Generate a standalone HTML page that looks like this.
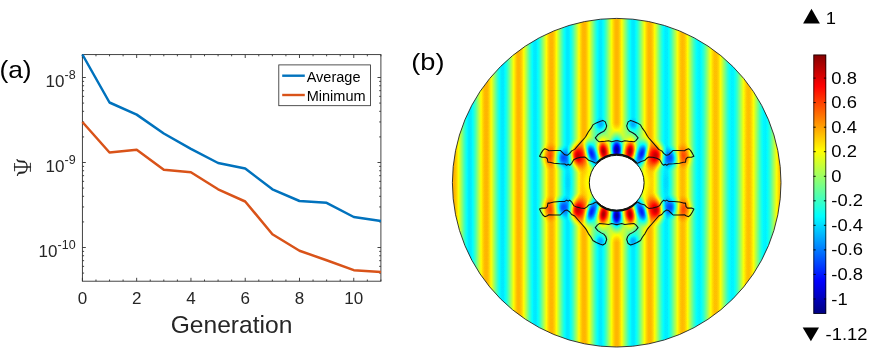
<!DOCTYPE html>
<html><head><meta charset="utf-8"><title>figure</title>
<style>html,body{margin:0;padding:0;background:#fff}svg{display:block}#w{width:872px;height:353px;overflow:hidden;will-change:transform;opacity:0.999}</style></head>
<body>
<div id="w">
<svg width="872" height="353" viewBox="0 0 872 353">
<rect width="872" height="353" fill="#fff"/>
<defs>
<linearGradient id="stp" gradientUnits="userSpaceOnUse" x1="616.70" y1="0" x2="649.67" y2="0" spreadMethod="repeat"><stop offset="0.0000" stop-color="#b2b2b2"/><stop offset="0.0417" stop-color="#b1b1b1"/><stop offset="0.0833" stop-color="#acacac"/><stop offset="0.1250" stop-color="#a5a5a5"/><stop offset="0.1667" stop-color="#9c9c9c"/><stop offset="0.2083" stop-color="#919191"/><stop offset="0.2500" stop-color="#868686"/><stop offset="0.2917" stop-color="#7b7b7b"/><stop offset="0.3333" stop-color="#707070"/><stop offset="0.3750" stop-color="#676767"/><stop offset="0.4167" stop-color="#606060"/><stop offset="0.4583" stop-color="#5b5b5b"/><stop offset="0.5000" stop-color="#5a5a5a"/><stop offset="0.5417" stop-color="#5b5b5b"/><stop offset="0.5833" stop-color="#606060"/><stop offset="0.6250" stop-color="#676767"/><stop offset="0.6667" stop-color="#707070"/><stop offset="0.7083" stop-color="#7b7b7b"/><stop offset="0.7500" stop-color="#868686"/><stop offset="0.7917" stop-color="#919191"/><stop offset="0.8333" stop-color="#9c9c9c"/><stop offset="0.8750" stop-color="#a5a5a5"/><stop offset="0.9167" stop-color="#acacac"/><stop offset="0.9583" stop-color="#b1b1b1"/><stop offset="1.0000" stop-color="#b2b2b2"/></linearGradient>
<linearGradient id="stpL" gradientUnits="userSpaceOnUse" x1="616.70" y1="0" x2="649.35" y2="0" spreadMethod="repeat"><stop offset="0.0000" stop-color="#b2b2b2"/><stop offset="0.0417" stop-color="#b1b1b1"/><stop offset="0.0833" stop-color="#acacac"/><stop offset="0.1250" stop-color="#a5a5a5"/><stop offset="0.1667" stop-color="#9c9c9c"/><stop offset="0.2083" stop-color="#919191"/><stop offset="0.2500" stop-color="#868686"/><stop offset="0.2917" stop-color="#7b7b7b"/><stop offset="0.3333" stop-color="#707070"/><stop offset="0.3750" stop-color="#676767"/><stop offset="0.4167" stop-color="#606060"/><stop offset="0.4583" stop-color="#5b5b5b"/><stop offset="0.5000" stop-color="#5a5a5a"/><stop offset="0.5417" stop-color="#5b5b5b"/><stop offset="0.5833" stop-color="#606060"/><stop offset="0.6250" stop-color="#676767"/><stop offset="0.6667" stop-color="#707070"/><stop offset="0.7083" stop-color="#7b7b7b"/><stop offset="0.7500" stop-color="#868686"/><stop offset="0.7917" stop-color="#919191"/><stop offset="0.8333" stop-color="#9c9c9c"/><stop offset="0.8750" stop-color="#a5a5a5"/><stop offset="0.9167" stop-color="#acacac"/><stop offset="0.9583" stop-color="#b1b1b1"/><stop offset="1.0000" stop-color="#b2b2b2"/></linearGradient>
<linearGradient id="damp" gradientUnits="userSpaceOnUse" x1="650" y1="0" x2="700" y2="0"><stop offset="0" stop-color="#878787" stop-opacity="0"/><stop offset="1" stop-color="#878787" stop-opacity="0.06"/></linearGradient>
<radialGradient id="gp"><stop offset="0.00" stop-color="#fff" stop-opacity="1.000"/><stop offset="0.10" stop-color="#fff" stop-opacity="0.974"/><stop offset="0.20" stop-color="#fff" stop-opacity="0.899"/><stop offset="0.30" stop-color="#fff" stop-opacity="0.785"/><stop offset="0.40" stop-color="#fff" stop-opacity="0.648"/><stop offset="0.50" stop-color="#fff" stop-opacity="0.502"/><stop offset="0.60" stop-color="#fff" stop-opacity="0.362"/><stop offset="0.70" stop-color="#fff" stop-opacity="0.238"/><stop offset="0.80" stop-color="#fff" stop-opacity="0.136"/><stop offset="0.90" stop-color="#fff" stop-opacity="0.057"/><stop offset="1.00" stop-color="#fff" stop-opacity="0.000"/></radialGradient>
<radialGradient id="gn"><stop offset="0.00" stop-color="#000" stop-opacity="1.000"/><stop offset="0.10" stop-color="#000" stop-opacity="0.974"/><stop offset="0.20" stop-color="#000" stop-opacity="0.899"/><stop offset="0.30" stop-color="#000" stop-opacity="0.785"/><stop offset="0.40" stop-color="#000" stop-opacity="0.648"/><stop offset="0.50" stop-color="#000" stop-opacity="0.502"/><stop offset="0.60" stop-color="#000" stop-opacity="0.362"/><stop offset="0.70" stop-color="#000" stop-opacity="0.238"/><stop offset="0.80" stop-color="#000" stop-opacity="0.136"/><stop offset="0.90" stop-color="#000" stop-opacity="0.057"/><stop offset="1.00" stop-color="#000" stop-opacity="0.000"/></radialGradient>
<radialGradient id="gz"><stop offset="0.00" stop-color="#909090" stop-opacity="1.000"/><stop offset="0.10" stop-color="#909090" stop-opacity="0.974"/><stop offset="0.20" stop-color="#909090" stop-opacity="0.899"/><stop offset="0.30" stop-color="#909090" stop-opacity="0.785"/><stop offset="0.40" stop-color="#909090" stop-opacity="0.648"/><stop offset="0.50" stop-color="#909090" stop-opacity="0.502"/><stop offset="0.60" stop-color="#909090" stop-opacity="0.362"/><stop offset="0.70" stop-color="#909090" stop-opacity="0.238"/><stop offset="0.80" stop-color="#909090" stop-opacity="0.136"/><stop offset="0.90" stop-color="#909090" stop-opacity="0.057"/><stop offset="1.00" stop-color="#909090" stop-opacity="0.000"/></radialGradient>
<radialGradient id="gy"><stop offset="0.00" stop-color="#9f9f9f" stop-opacity="1.000"/><stop offset="0.10" stop-color="#9f9f9f" stop-opacity="0.974"/><stop offset="0.20" stop-color="#9f9f9f" stop-opacity="0.899"/><stop offset="0.30" stop-color="#9f9f9f" stop-opacity="0.785"/><stop offset="0.40" stop-color="#9f9f9f" stop-opacity="0.648"/><stop offset="0.50" stop-color="#9f9f9f" stop-opacity="0.502"/><stop offset="0.60" stop-color="#9f9f9f" stop-opacity="0.362"/><stop offset="0.70" stop-color="#9f9f9f" stop-opacity="0.238"/><stop offset="0.80" stop-color="#9f9f9f" stop-opacity="0.136"/><stop offset="0.90" stop-color="#9f9f9f" stop-opacity="0.057"/><stop offset="1.00" stop-color="#9f9f9f" stop-opacity="0.000"/></radialGradient>
<filter id="jet" color-interpolation-filters="sRGB" filterUnits="userSpaceOnUse" x="440" y="0" width="360" height="353">
<feComponentTransfer>
<feFuncR type="table" tableValues="0 0 0 0 .5 1 1 1 .5"/>
<feFuncG type="table" tableValues="0 0 .5 1 1 1 .5 0 0"/>
<feFuncB type="table" tableValues=".5 1 1 1 .5 0 0 0 0"/>
</feComponentTransfer></filter>
<clipPath id="oc"><circle cx="616.7" cy="182.7" r="164.3"/></clipPath>
</defs>
<g clip-path="url(#oc)"><g filter="url(#jet)">
<rect x="440" y="0" width="360" height="353" fill="url(#stp)"/>
<rect x="440" y="0" width="176.70" height="353" fill="url(#stpL)"/>
<rect x="640" y="0" width="160" height="353" fill="url(#damp)"/>
<ellipse cx="588.2" cy="182.7" rx="10.4" ry="22.4" fill="url(#gy)" opacity="0.90" transform="rotate(0.0 588.2 182.7)"/>
<ellipse cx="645.2" cy="182.7" rx="10.4" ry="22.4" fill="url(#gy)" opacity="0.90" transform="rotate(0.0 645.2 182.7)"/>
<ellipse cx="568.2" cy="182.7" rx="9.6" ry="19.2" fill="url(#gn)" opacity="0.06" transform="rotate(0.0 568.2 182.7)"/>
<ellipse cx="665.2" cy="182.7" rx="9.6" ry="19.2" fill="url(#gn)" opacity="0.06" transform="rotate(0.0 665.2 182.7)"/>
<ellipse cx="616.7" cy="134.7" rx="32.0" ry="12.0" fill="url(#gz)" opacity="0.80" transform="rotate(0.0 616.7 134.7)"/>
<ellipse cx="616.7" cy="230.7" rx="32.0" ry="12.0" fill="url(#gz)" opacity="0.80" transform="rotate(0.0 616.7 230.7)"/>
<ellipse cx="600.7" cy="124.7" rx="8.0" ry="8.0" fill="url(#gn)" opacity="0.18" transform="rotate(0.0 600.7 124.7)"/>
<ellipse cx="600.7" cy="240.7" rx="8.0" ry="8.0" fill="url(#gn)" opacity="0.18" transform="rotate(0.0 600.7 240.7)"/>
<ellipse cx="632.7" cy="124.7" rx="8.0" ry="8.0" fill="url(#gn)" opacity="0.18" transform="rotate(0.0 632.7 124.7)"/>
<ellipse cx="632.7" cy="240.7" rx="8.0" ry="8.0" fill="url(#gn)" opacity="0.18" transform="rotate(0.0 632.7 240.7)"/>
<ellipse cx="616.7" cy="149.7" rx="9.6" ry="19.2" fill="url(#gn)" opacity="0.97" transform="rotate(0.0 616.7 149.7)"/>
<ellipse cx="616.7" cy="215.7" rx="9.6" ry="19.2" fill="url(#gn)" opacity="0.97" transform="rotate(0.0 616.7 215.7)"/>
<ellipse cx="603.4" cy="151.2" rx="9.6" ry="20.0" fill="url(#gp)" opacity="0.94" transform="rotate(-8.0 603.4 151.2)"/>
<ellipse cx="603.4" cy="214.2" rx="9.6" ry="20.0" fill="url(#gp)" opacity="0.94" transform="rotate(8.0 603.4 214.2)"/>
<ellipse cx="630.0" cy="151.2" rx="9.6" ry="20.0" fill="url(#gp)" opacity="0.94" transform="rotate(8.0 630.0 151.2)"/>
<ellipse cx="630.0" cy="214.2" rx="9.6" ry="20.0" fill="url(#gp)" opacity="0.94" transform="rotate(-8.0 630.0 214.2)"/>
<ellipse cx="591.2" cy="153.2" rx="8.3" ry="19.2" fill="url(#gn)" opacity="0.72" transform="rotate(-16.0 591.2 153.2)"/>
<ellipse cx="591.2" cy="212.2" rx="8.3" ry="19.2" fill="url(#gn)" opacity="0.72" transform="rotate(16.0 591.2 212.2)"/>
<ellipse cx="642.2" cy="153.2" rx="8.3" ry="19.2" fill="url(#gn)" opacity="0.72" transform="rotate(16.0 642.2 153.2)"/>
<ellipse cx="642.2" cy="212.2" rx="8.3" ry="19.2" fill="url(#gn)" opacity="0.72" transform="rotate(-16.0 642.2 212.2)"/>
<ellipse cx="577.7" cy="155.7" rx="11.5" ry="17.3" fill="url(#gp)" opacity="0.84" transform="rotate(-6.0 577.7 155.7)"/>
<ellipse cx="577.7" cy="209.7" rx="11.5" ry="17.3" fill="url(#gp)" opacity="0.84" transform="rotate(6.0 577.7 209.7)"/>
<ellipse cx="655.7" cy="155.7" rx="11.5" ry="17.3" fill="url(#gp)" opacity="0.84" transform="rotate(6.0 655.7 155.7)"/>
<ellipse cx="655.7" cy="209.7" rx="11.5" ry="17.3" fill="url(#gp)" opacity="0.84" transform="rotate(-6.0 655.7 209.7)"/>
<ellipse cx="562.2" cy="157.9" rx="12.0" ry="13.6" fill="url(#gn)" opacity="0.52" transform="rotate(0.0 562.2 157.9)"/>
<ellipse cx="562.2" cy="207.5" rx="12.0" ry="13.6" fill="url(#gn)" opacity="0.52" transform="rotate(0.0 562.2 207.5)"/>
<ellipse cx="671.2" cy="157.9" rx="12.0" ry="13.6" fill="url(#gn)" opacity="0.52" transform="rotate(0.0 671.2 157.9)"/>
<ellipse cx="671.2" cy="207.5" rx="12.0" ry="13.6" fill="url(#gn)" opacity="0.52" transform="rotate(0.0 671.2 207.5)"/>
<ellipse cx="549.7" cy="156.2" rx="12.0" ry="14.4" fill="url(#gp)" opacity="0.37" transform="rotate(0.0 549.7 156.2)"/>
<ellipse cx="549.7" cy="209.2" rx="12.0" ry="14.4" fill="url(#gp)" opacity="0.37" transform="rotate(0.0 549.7 209.2)"/>
<ellipse cx="683.7" cy="156.2" rx="12.0" ry="14.4" fill="url(#gp)" opacity="0.37" transform="rotate(0.0 683.7 156.2)"/>
<ellipse cx="683.7" cy="209.2" rx="12.0" ry="14.4" fill="url(#gp)" opacity="0.37" transform="rotate(0.0 683.7 209.2)"/>
</g></g>
<circle cx="616.7" cy="182.7" r="27.4" fill="#fff" stroke="#111" stroke-width="1"/>
<path d="M596.6 163.2A27.4 27.4 0 0 1 636.8 163.2M596.6 202.2A27.4 27.4 0 0 0 636.8 202.2" fill="none" stroke="#111" stroke-width="1.7"/>
<g fill="none" stroke="#111" stroke-width="1.05" stroke-linejoin="round">
<path d="M596.6 163.6 L592.8 161.7 L588.6 160.3 L586.6 158.3 L584.6 157.0 L580.6 157.3 L576.7 158.3 L573.7 159.8 L571.7 163.3 L569.7 165.3 L568.2 164.3 L566.7 165.3 L564.8 164.0 L559.8 163.8 L553.8 163.3 L549.9 162.3 L547.9 162.3 L547.4 158.8 L545.9 157.3 L541.9 157.3 L539.5 156.3 L541.0 153.4 L542.9 150.4 L544.9 148.7 L547.4 149.7 L548.9 150.7 L554.8 150.4 L560.3 150.4 L562.3 152.4 L564.8 154.8 L567.2 155.3 L569.7 153.4 L571.7 150.9 L574.7 149.4 L577.7 145.9 L581.6 141.4 L584.6 138.0 L585.9 136.3 L588.4 131.8 L590.9 128.4 L592.9 124.9 L596.3 122.9 L599.8 121.4 L602.8 120.4 L605.3 121.9 L606.7 125.9 L605.8 128.9 L603.8 131.3 L600.8 132.8 L597.8 134.8 L595.3 137.8 L597.3 140.3 L599.3 141.8 L604.8 141.3 L608.7 140.8 L611.7 141.8 L615.7 140.8 L617.7 140.8 L621.7 141.8 L624.7 140.8 L628.6 141.3 L634.1 141.8 L636.1 140.3 L638.1 137.8 L635.6 134.8 L632.6 132.8 L629.6 131.3 L627.6 128.9 L626.7 125.9 L628.1 121.9 L630.6 120.4 L633.6 121.4 L637.1 122.9 L640.5 124.9 L642.5 128.4 L645.0 131.8 L647.5 136.3 L648.8 138.0 L651.8 141.4 L655.7 145.9 L658.7 149.4 L661.7 150.9 L663.7 153.4 L666.2 155.3 L668.6 154.8 L671.1 152.4 L673.1 150.4 L678.6 150.4 L684.5 150.7 L686.0 149.7 L688.5 148.7 L690.5 150.4 L692.4 153.4 L693.9 156.3 L691.5 157.3 L687.5 157.3 L686.0 158.8 L685.5 162.3 L683.5 162.3 L679.6 163.3 L673.6 163.8 L668.6 164.0 L666.7 165.3 L665.2 164.3 L663.7 165.3 L661.7 163.3 L659.7 159.8 L656.7 158.3 L652.8 157.3 L648.8 157.0 L646.8 158.3 L644.8 160.3 L640.6 161.7 L636.8 163.6"/>
<path d="M596.6 201.8 L592.8 203.7 L588.6 205.1 L586.6 207.1 L584.6 208.4 L580.6 208.1 L576.7 207.1 L573.7 205.6 L571.7 202.1 L569.7 200.1 L568.2 201.1 L566.7 200.1 L564.8 201.4 L559.8 201.6 L553.8 202.1 L549.9 203.1 L547.9 203.1 L547.4 206.6 L545.9 208.1 L541.9 208.1 L539.5 209.1 L541.0 212.0 L542.9 215.0 L544.9 216.7 L547.4 215.7 L548.9 214.7 L554.8 215.0 L560.3 215.0 L562.3 213.0 L564.8 210.6 L567.2 210.1 L569.7 212.0 L571.7 214.5 L574.7 216.0 L577.7 219.5 L581.6 224.0 L584.6 227.4 L585.9 229.1 L588.4 233.6 L590.9 237.0 L592.9 240.5 L596.3 242.5 L599.8 244.0 L602.8 245.0 L605.3 243.5 L606.7 239.5 L605.8 236.5 L603.8 234.1 L600.8 232.6 L597.8 230.6 L595.3 227.6 L597.3 225.1 L599.3 223.6 L604.8 224.1 L608.7 224.6 L611.7 223.6 L615.7 224.6 L617.7 224.6 L621.7 223.6 L624.7 224.6 L628.6 224.1 L634.1 223.6 L636.1 225.1 L638.1 227.6 L635.6 230.6 L632.6 232.6 L629.6 234.1 L627.6 236.5 L626.7 239.5 L628.1 243.5 L630.6 245.0 L633.6 244.0 L637.1 242.5 L640.5 240.5 L642.5 237.0 L645.0 233.6 L647.5 229.1 L648.8 227.4 L651.8 224.0 L655.7 219.5 L658.7 216.0 L661.7 214.5 L663.7 212.0 L666.2 210.1 L668.6 210.6 L671.1 213.0 L673.1 215.0 L678.6 215.0 L684.5 214.7 L686.0 215.7 L688.5 216.7 L690.5 215.0 L692.4 212.0 L693.9 209.1 L691.5 208.1 L687.5 208.1 L686.0 206.6 L685.5 203.1 L683.5 203.1 L679.6 202.1 L673.6 201.6 L668.6 201.4 L666.7 200.1 L665.2 201.1 L663.7 200.1 L661.7 202.1 L659.7 205.6 L656.7 207.1 L652.8 208.1 L648.8 208.4 L646.8 207.1 L644.8 205.1 L640.6 203.7 L636.8 201.8"/>
</g>
<circle cx="616.7" cy="182.7" r="164.3" fill="none" stroke="#222" stroke-width="0.9"/>
<defs><linearGradient id="cb" gradientUnits="userSpaceOnUse" x1="0" y1="313.7" x2="0" y2="53.6">
<stop offset="0.000" stop-color="#000080"/>
<stop offset="0.125" stop-color="#0000ff"/>
<stop offset="0.375" stop-color="#00ffff"/>
<stop offset="0.625" stop-color="#ffff00"/>
<stop offset="0.875" stop-color="#ff0000"/>
<stop offset="1.000" stop-color="#800000"/>
</linearGradient></defs>
<rect x="813.5" y="54.7" width="12.6" height="259.1" fill="url(#cb)"/>
<rect x="813.8" y="55.0" width="12.0" height="258.5" stroke="#000" stroke-opacity="0.8" stroke-width="0.9" fill="none"/>
<g font-family="'Liberation Sans', sans-serif" fill="#000" font-size="16">
<text transform="translate(831.3 83.6) scale(1.15 1)">0.8</text>
<text transform="translate(831.3 108.1) scale(1.15 1)">0.6</text>
<text transform="translate(831.3 132.7) scale(1.15 1)">0.4</text>
<text transform="translate(831.3 157.2) scale(1.15 1)">0.2</text>
<text transform="translate(831.3 181.8) scale(1.15 1)">0</text>
<text transform="translate(831.3 206.3) scale(1.15 1)">-0.2</text>
<text transform="translate(831.3 230.8) scale(1.15 1)">-0.4</text>
<text transform="translate(831.3 255.4) scale(1.15 1)">-0.6</text>
<text transform="translate(831.3 279.9) scale(1.15 1)">-0.8</text>
<text transform="translate(831.3 304.5) scale(1.15 1)">-1</text>
<text transform="translate(825.8 24.1) scale(1.15 1)">1</text>
<text transform="translate(825.6 339.7) scale(1.15 1)">-1.12</text>
</g>
<path d="M813.5 78.1h2.2 M826.1 78.1h-2.2 M813.5 102.6h2.2 M826.1 102.6h-2.2 M813.5 127.2h2.2 M826.1 127.2h-2.2 M813.5 151.7h2.2 M826.1 151.7h-2.2 M813.5 176.3h2.2 M826.1 176.3h-2.2 M813.5 200.8h2.2 M826.1 200.8h-2.2 M813.5 225.3h2.2 M826.1 225.3h-2.2 M813.5 249.9h2.2 M826.1 249.9h-2.2 M813.5 274.4h2.2 M826.1 274.4h-2.2 M813.5 299.0h2.2 M826.1 299.0h-2.2" stroke="#000" stroke-width="0.9" fill="none"/>
<path d="M803.1 23.4L811.5 8.7L819.9 23.4Z" fill="#000"/>
<path d="M802.7 327.4L819 327.4L810.9 341.2Z" fill="#000"/>
<g stroke="#303030" stroke-width="0.9" fill="none">
<rect x="82.4" y="54.6" width="298.5" height="226.6"/>
<path d="M82.40 281.2v-3.4 M82.40 54.6v3.4 M95.97 281.2v-1.7 M95.97 54.6v1.7 M109.54 281.2v-1.7 M109.54 54.6v1.7 M123.10 281.2v-1.7 M123.10 54.6v1.7 M136.67 281.2v-3.4 M136.67 54.6v3.4 M150.24 281.2v-1.7 M150.24 54.6v1.7 M163.81 281.2v-1.7 M163.81 54.6v1.7 M177.38 281.2v-1.7 M177.38 54.6v1.7 M190.95 281.2v-3.4 M190.95 54.6v3.4 M204.51 281.2v-1.7 M204.51 54.6v1.7 M218.08 281.2v-1.7 M218.08 54.6v1.7 M231.65 281.2v-1.7 M231.65 54.6v1.7 M245.22 281.2v-3.4 M245.22 54.6v3.4 M258.79 281.2v-1.7 M258.79 54.6v1.7 M272.35 281.2v-1.7 M272.35 54.6v1.7 M285.92 281.2v-1.7 M285.92 54.6v1.7 M299.49 281.2v-3.4 M299.49 54.6v3.4 M313.06 281.2v-1.7 M313.06 54.6v1.7 M326.63 281.2v-1.7 M326.63 54.6v1.7 M340.20 281.2v-1.7 M340.20 54.6v1.7 M353.76 281.2v-3.4 M353.76 54.6v3.4 M367.33 281.2v-1.7 M367.33 54.6v1.7 M380.90 281.2v-1.7 M380.90 54.6v1.7 M82.4 77.50h3.4 M380.9 77.50h-3.4 M82.4 162.50h3.4 M380.9 162.50h-3.4 M82.4 136.91h1.7 M380.9 136.91h-1.7 M82.4 121.94h1.7 M380.9 121.94h-1.7 M82.4 111.32h1.7 M380.9 111.32h-1.7 M82.4 103.09h1.7 M380.9 103.09h-1.7 M82.4 96.36h1.7 M380.9 96.36h-1.7 M82.4 90.67h1.7 M380.9 90.67h-1.7 M82.4 85.74h1.7 M380.9 85.74h-1.7 M82.4 81.39h1.7 M380.9 81.39h-1.7 M82.4 247.50h3.4 M380.9 247.50h-3.4 M82.4 221.91h1.7 M380.9 221.91h-1.7 M82.4 206.94h1.7 M380.9 206.94h-1.7 M82.4 196.32h1.7 M380.9 196.32h-1.7 M82.4 188.09h1.7 M380.9 188.09h-1.7 M82.4 181.36h1.7 M380.9 181.36h-1.7 M82.4 175.67h1.7 M380.9 175.67h-1.7 M82.4 170.74h1.7 M380.9 170.74h-1.7 M82.4 166.39h1.7 M380.9 166.39h-1.7 M82.4 273.09h1.7 M380.9 273.09h-1.7 M82.4 266.36h1.7 M380.9 266.36h-1.7 M82.4 260.67h1.7 M380.9 260.67h-1.7 M82.4 255.74h1.7 M380.9 255.74h-1.7 M82.4 251.39h1.7 M380.9 251.39h-1.7"/>
</g>
<clipPath id="axc"><rect x="80.9" y="53.1" width="301.5" height="229.6"/></clipPath>
<g fill="none" stroke-width="2.5" stroke-linejoin="round" clip-path="url(#axc)">
<polyline stroke="#0072BD" points="82.4,54.5 109.5,102.5 136.7,114.6 163.8,133.5 190.9,148.8 218.1,163.0 245.2,168.5 272.4,189.3 299.5,201.0 326.6,202.8 353.8,217.0 380.9,220.9"/>
<polyline stroke="#D95319" points="82.4,122.0 109.5,152.5 136.7,149.8 163.8,169.7 190.9,172.3 218.1,189.3 245.2,201.5 272.4,234.2 299.5,250.7 326.6,260.3 353.8,270.2 380.9,271.9"/>
</g>
<rect x="278.8" y="64.9" width="91.8" height="40.8" fill="#fff" stroke="#262626" stroke-width="0.8"/>
<path d="M282.2 75.7H304.8" stroke="#0072BD" stroke-width="2.4"/>
<path d="M282.2 95H304.8" stroke="#D95319" stroke-width="2.4"/>
<g font-family="'Liberation Sans', sans-serif" fill="#000">
<text transform="translate(306.7 81.9) scale(0.955 1)" font-size="15.2">Average</text>
<text transform="translate(306.7 100.9) scale(0.955 1)" font-size="15.2">Minimum</text>
</g>
<g font-family="'Liberation Sans', sans-serif" fill="#262626" font-size="17">
<text x="82.4" y="303.8" text-anchor="middle">0</text>
<text x="136.7" y="303.8" text-anchor="middle">2</text>
<text x="190.9" y="303.8" text-anchor="middle">4</text>
<text x="245.2" y="303.8" text-anchor="middle">6</text>
<text x="299.5" y="303.8" text-anchor="middle">8</text>
<text x="353.8" y="303.8" text-anchor="middle">10</text>
<text x="75.6" y="87.0" text-anchor="end" font-size="17">10<tspan font-size="12.5" dy="-8.4">-8</tspan></text>
<text x="75.6" y="172.0" text-anchor="end" font-size="17">10<tspan font-size="12.5" dy="-8.4">-9</tspan></text>
<text x="75.6" y="257.0" text-anchor="end" font-size="17">10<tspan font-size="12.5" dy="-8.4">-10</tspan></text>
<text x="231.5" y="333" font-size="24.6" text-anchor="middle">Generation</text>
</g>
<g fill="none" stroke="#222" stroke-linecap="round" stroke-linejoin="round"><path d="M14.6 167H30.4" stroke-width="1.55"/><path d="M14.6 163.4V170.9M30.4 163.2V171.4" stroke-width="0.95"/><path d="M17.0 159.5C17.3 160.8 18.2 161.3 19.5 161.4L23.3 161.5C26 161.9 27.1 164 27.1 167.1C27.1 170.2 26 172.3 23.3 172.6L19.8 172.8C18.4 172.9 17.7 173.6 17.4 175.3" stroke-width="1.2"/><path d="M19.0 161.4L24.2 161.75M19.3 172.8L24.2 172.4" stroke-width="1.9"/></g>
<g font-family="'Liberation Sans', sans-serif" fill="#000" font-size="24">
<text transform="translate(-0.6 77.6) scale(1.10 1)">(a)</text>
<text transform="translate(411.3 69.7) scale(1.13 1)">(b)</text>
</g>
</svg>
</div>
</body></html>
